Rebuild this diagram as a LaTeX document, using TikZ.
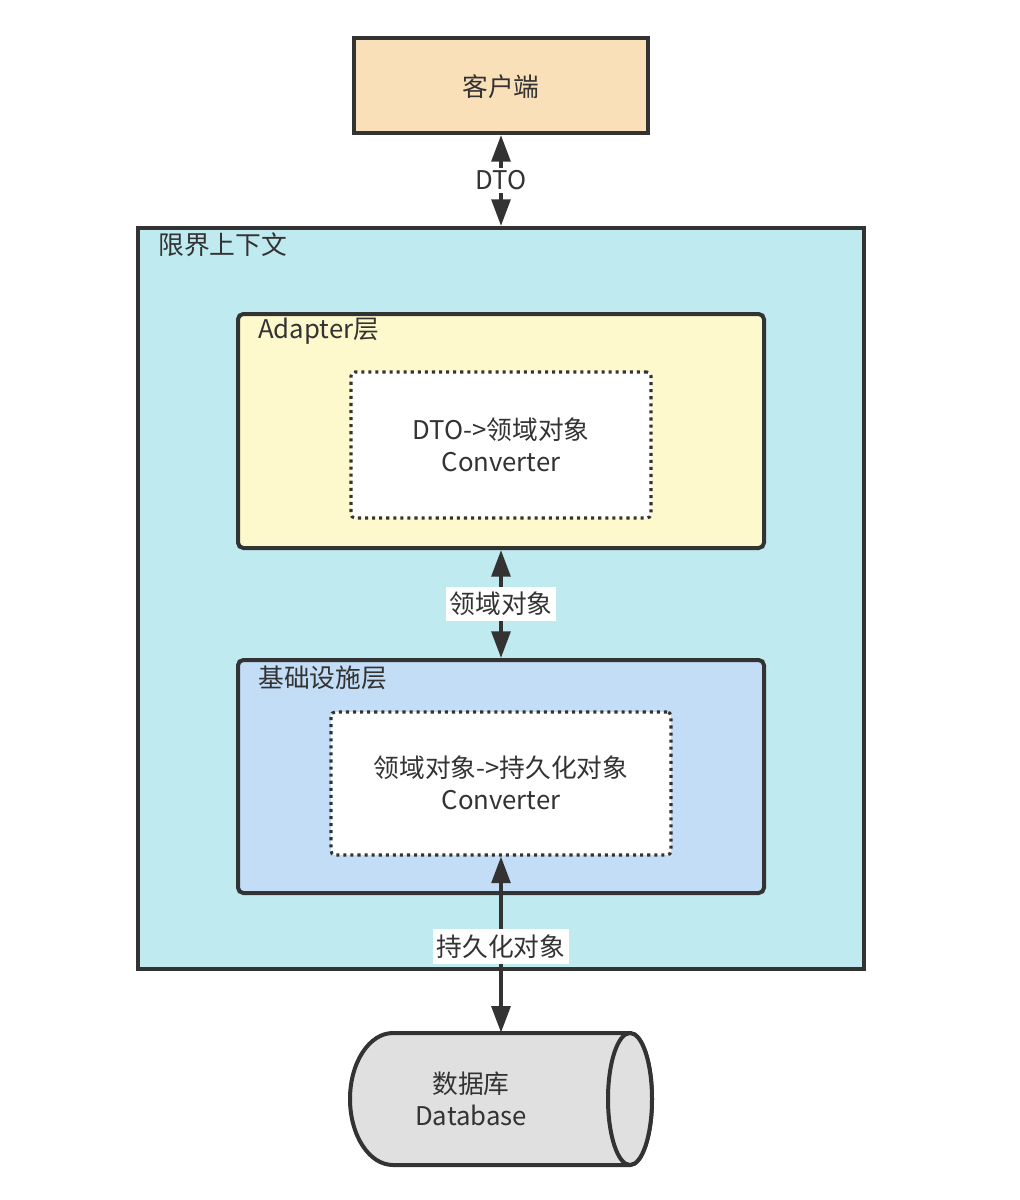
\documentclass[tikz,border=0pt]{standalone}
\usepackage{fontspec}
\setmainfont{Noto Sans CJK SC}
\usetikzlibrary{arrows.meta,fit}
\definecolor{linec}{HTML}{333333}
\definecolor{clientc}{HTML}{FAE0B8}
\definecolor{ctxc}{HTML}{BEEAF0}
\definecolor{adapc}{HTML}{FEF9CC}
\definecolor{infrac}{HTML}{C3DDF7}
\definecolor{dbc}{HTML}{E0E0E0}
\begin{document}
\begin{tikzpicture}[x=0.75pt,y=-0.75pt,
  every node/.style={font=\fontsize{19.3}{24}\selectfont, text=linec},
  box/.style={draw=linec, line width=3pt, inner sep=0pt},
  layer/.style={box, rounded corners=4pt},
  conv/.style={draw=linec, fill=white, line width=2.3pt, dash pattern=on 2.3pt off 3pt, rounded corners=3pt, inner sep=0pt, align=center},
  biarrow/.style={draw=linec, line width=3pt, {Triangle[length=20pt,width=14pt]}-{Triangle[length=20pt,width=14pt]}},
  lab/.style={fill=white, inner xsep=3pt, inner ysep=4pt},
  title/.style={anchor=west, inner sep=0pt}
]
\useasboundingbox[fill=white] (0,0) rectangle (1020,1200);

% boundary context
\node[box, fill=ctxc, fit={(138,228) (864,969)}] (ctx) {};
\node[title] (ctxt) at (158,245) {限界上下文};

% client
\node[box, fill=clientc, fit={(354,38) (648,133)}] (client) {};
\node (clientt) at (501,87) {客户端};

% adapter layer
\node[layer, fill=adapc, fit={(238,314) (764,548)}] (adapter) {};
\node[title] (adaptert) at (258,331) {Adapter层};
\node[conv, fit={(351,372) (651,518)}] (conv1) {};
\node[align=center] (conv1t) at (501,445) {DTO->领域对象\\Converter};

% infrastructure layer
\node[layer, fill=infrac, fit={(238,660) (764,893)}] (infra) {};
\node[title] (infrat) at (258,678) {基础设施层};
\node[conv, fit={(331,712) (671,855)}] (conv2) {};
\node[align=center] (conv2t) at (501,783) {领域对象->持久化对象\\Converter};

% database
\node[inner sep=0pt, fit={(350,1033) (652,1165)}] (db) {};
\draw[draw=linec, fill=dbc, line width=3pt]
  (630,1033) -- (393,1033)
  .. controls (369.3,1033) and (350,1062.5) .. (350,1099)
  .. controls (350,1135.5) and (369.3,1165) .. (393,1165)
  -- (630,1165)
  .. controls (642.1,1165) and (652,1135.5) .. (652,1099)
  .. controls (652,1062.5) and (642.1,1033) .. (630,1033) -- cycle;
\draw[draw=linec, fill=dbc, line width=3pt] (630,1099) ellipse[x radius=22, y radius=66];
\node[align=center] (dbt) at (471,1099) {数据库\\Database};

% connectors
\draw[biarrow] (client.south) -- (ctx.north) node[midway, fill=white, inner sep=2pt] (dtol) {DTO};
\draw[biarrow] (adapter.south) -- (infra.north) node[midway, lab] (doml) {领域对象};
\draw[biarrow] (conv2.south) -- (db.north) node[pos=0.51, lab] (perl) {持久化对象};
\end{tikzpicture}
\end{document}
